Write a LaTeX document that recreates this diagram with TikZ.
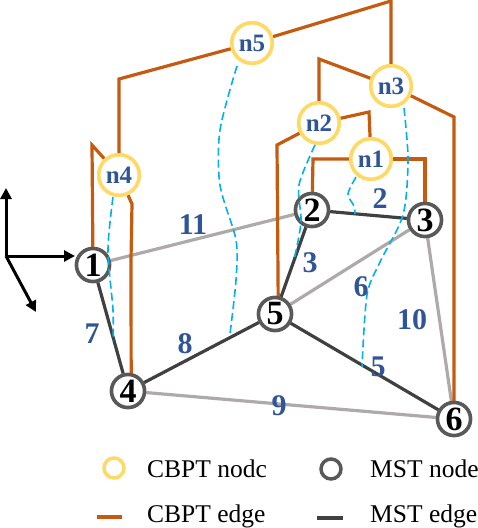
\documentclass[tikz,border=0pt]{standalone}
\usepackage{fontspec}
\setmainfont{Liberation Serif}
\usetikzlibrary{arrows.meta}
\definecolor{cbor}{HTML}{C55A11}
\definecolor{cbyl}{HTML}{FFD966}
\definecolor{lblue}{HTML}{2F5597}
\definecolor{dcyan}{HTML}{00B0F0}
\definecolor{lgray}{HTML}{AEAAAA}
\definecolor{dgray}{HTML}{404040}
\definecolor{ngray}{HTML}{595959}
\begin{document}
\begin{tikzpicture}[x=1pt,y=-1pt,
  cbnode/.style={circle,draw=cbyl,line width=3.5pt,fill=white,minimum size=40.5pt,inner sep=0pt,text=lblue,font=\fontsize{25}{25}\selectfont\bfseries},
  mstnode/.style={circle,draw=ngray,line width=3.5pt,fill=white,minimum size=33pt,inner sep=0pt,font=\fontsize{34}{34}\selectfont\bfseries},
  cbedge/.style={draw=cbor,line width=3.2pt,line join=miter},
  mstedge/.style={draw=dgray,line width=3.2pt},
  othedge/.style={draw=lgray,line width=3.2pt},
  cutline/.style={draw=dcyan,line width=1.6pt,dash pattern=on 8pt off 4pt},
  wlabel/.style={text=lblue,font=\fontsize{30}{30}\selectfont\bfseries,inner sep=0pt},
  axisarrow/.style={draw=black,line width=3pt,-{Triangle[length=11pt,width=11pt]}},
  legtext/.style={anchor=base west,inner sep=0pt,font=\fontsize{25.5}{25.5}\selectfont},
  legcb/.style={circle,draw=cbyl,line width=3.5pt,minimum size=20pt,inner sep=0pt},
  legmst/.style={circle,draw=ngray,line width=3.5pt,minimum size=20pt,inner sep=0pt}
]
\useasboundingbox (0,0) rectangle (478,528);

% MST nodes
\node[mstnode] (m1) at (93,265) {1};
\node[mstnode] (m2) at (312,210) {2};
\node[mstnode] (m3) at (425,220) {3};
\node[mstnode] (m4) at (128,391) {4};
\node[mstnode] (m5) at (275,314) {5};
\node[mstnode] (m6) at (454,419) {6};

% CBPT nodes
\node[cbnode] (n1) at (371,159) {n1};
\node[cbnode] (n2) at (319,123) {n2};
\node[cbnode] (n3) at (391,86) {n3};
\node[cbnode] (n4) at (119,175) {n4};
\node[cbnode] (n5) at (252,43) {n5};

% graph edges
\path[othedge] (m1) -- (m2);
\path[othedge] (m5) -- (m3);
\path[othedge] (m3) -- (m6);
\path[othedge] (m4) -- (m6);
\path[mstedge] (m1) -- (m4);
\path[mstedge] (m4) -- (m5);
\path[mstedge] (m5) -- (m2);
\path[mstedge] (m2) -- (m3);
\path[mstedge] (m5) -- (m6);

% CBPT edges
\path[cbedge] (n5) -- (119,79) -- (n4);
\path[cbedge] (n5) -- (391,1) -- (n3);
\path[cbedge] (n3) -- (319,59) -- (n2);
\path[cbedge] (n3) -- (454,117) -- (m6);
\path[cbedge] (n2) -- (277,145) -- (m5.80);
\path[cbedge] (n2) -- (369,112) -- (n1);
\path[cbedge] (n1) -- (313,159) -- (m2);
\path[cbedge] (n1) -- (425,159) -- (m3);
\path[cbedge] (n4) -- (92,145) -- (m1);
\path[cbedge] (n4) -- (132,204) -- (131,260) -- (m4.80);

% redraw nodes on top
\node[mstnode] at (m1) {1};
\node[mstnode] at (m2) {2};
\node[mstnode] at (m3) {3};
\node[mstnode] at (m4) {4};
\node[mstnode] at (m5) {5};
\node[mstnode] at (m6) {6};
\node[cbnode] at (n1) {n1};
\node[cbnode] at (n2) {n2};
\node[cbnode] at (n3) {n3};
\node[cbnode] at (n4) {n4};
\node[cbnode] at (n5) {n5};

% cut lines
\coordinate (c5) at (230,334);
\coordinate (c4) at (113,341);
\coordinate (c2) at (294,260);
\coordinate (c1) at (355,214);
\coordinate (c3) at (362,367);
\draw[cutline] plot[smooth] coordinates {(237,66) (220,130) (220,185) (236,240) (236,280) (c5)};
\draw[cutline] plot[smooth] coordinates {(113,197) (108,250) (113,310) (c4)};
\draw[cutline] plot[smooth] coordinates {(315,145) (299,185) (301,222) (c2)};
\draw[cutline] plot[smooth] coordinates {(356,177) (348,194) (354,206) (c1)};
\draw[cutline] plot[smooth] coordinates {(404,108) (408,160) (403,215) (380,262) (367,295) (c3)};

% weights
\node[wlabel] (w11) at (193,225) {11};
\node[wlabel] (w2) at (380,199) {2};
\node[wlabel] (w3) at (310,263) {3};
\node[wlabel] (w6) at (361,287) {6};
\node[wlabel] (w10) at (412,320) {10};
\node[wlabel] (w7) at (92,334) {7};
\node[wlabel] (w8) at (185,344) {8};
\node[wlabel] (w5) at (378,367) {5};
\node[wlabel] (w9) at (279,406) {9};

% axes
\coordinate (o) at (6,256);
\coordinate (ax) at (75,256);
\coordinate (ay) at (6,188);
\coordinate (az) at (36,312);
\path[axisarrow] (o) -- (ay);
\path[axisarrow] (o) -- (ax);
\path[axisarrow] (o) -- (az);

% legend
\node[legcb] (lg1) at (114,468) {};
\node[legtext] (lt1) at (147,477) {CBPT nodc};
\node[legmst] (lg2) at (331,469) {};
\node[legtext] (lt2) at (370,477) {MST node};
\coordinate (la1) at (97,517);
\coordinate (lb1) at (122,517);
\draw[cbor,line width=4pt] (la1) -- (lb1);
\node[legtext] (lt3) at (147,522) {CBPT edge};
\coordinate (la2) at (317,518);
\coordinate (lb2) at (343,518);
\draw[dgray,line width=4pt] (la2) -- (lb2);
\node[legtext] (lt4) at (370,522) {MST edge};
\end{tikzpicture}
\end{document}
